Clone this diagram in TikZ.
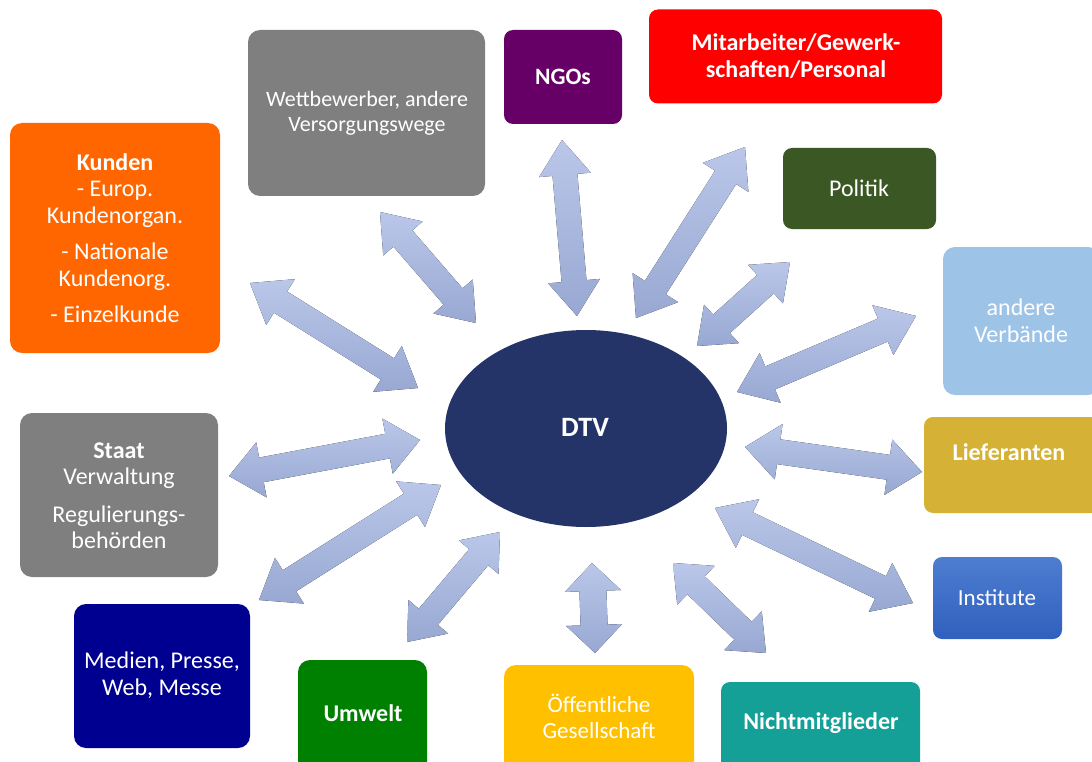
\documentclass[tikz,border=0pt]{standalone}
\usepackage{fontspec}
\setmainfont{Carlito}
\usetikzlibrary{calc,shapes.geometric}
\definecolor{cOrange}{HTML}{FF6600}
\definecolor{cGray}{HTML}{7F7F7F}
\definecolor{cPurple}{HTML}{660066}
\definecolor{cRed}{HTML}{FF0000}
\definecolor{cPolitik}{HTML}{3B5724}
\definecolor{cLightBlue}{HTML}{9DC3E6}
\definecolor{cGold}{HTML}{D5B236}
\definecolor{cInstTop}{HTML}{4E7DD0}
\definecolor{cInstBot}{HTML}{2F60BE}
\definecolor{cTeal}{HTML}{14A096}
\definecolor{cYellow}{HTML}{FFC000}
\definecolor{cGreen}{HTML}{008000}
\definecolor{cNavy}{HTML}{000090}
\definecolor{cDTV}{HTML}{243468}
\definecolor{arrTop}{HTML}{BAC7E9}
\definecolor{arrBot}{HTML}{98A8D2}
\newcommand\dblarr[5]{%
  \coordinate (da) at ($(#1)!#3!(#2)$);
  \coordinate (db) at ($(#2)!#3!(#1)$);
  \fill[arrowfill] (#1) -- ($(da)!#4!90:(#2)$) -- ($(da)!#5!90:(#2)$)
    -- ($(db)!#5!-90:(#1)$) -- ($(db)!#4!-90:(#1)$) -- (#2)
    -- ($(db)!#4!90:(#1)$) -- ($(db)!#5!90:(#1)$)
    -- ($(da)!#5!-90:(#2)$) -- ($(da)!#4!-90:(#2)$) -- cycle;}
\begin{document}
\begin{tikzpicture}[x=1pt,y=-1pt,
  box/.style={rectangle, rounded corners=12pt, inner sep=0pt, outer sep=0pt, draw=none},
  lbl/.style={text=white, align=center, inner sep=0pt, font=\fontsize{24}{27}\selectfont},
  blbl/.style={lbl, font=\fontsize{24}{27}\selectfont\bfseries},
  arrowfill/.style={top color=arrTop, bottom color=arrBot, draw=none}]
\useasboundingbox (0,0) rectangle (1092,762);
\clip (0,0) rectangle (1092,762);
% boxes
\node[box, fill=cOrange, minimum width=210, minimum height=230] (kunden) at (115,238) {};
\node[box, fill=cGray, minimum width=237, minimum height=166] (wettb) at (366.5,113) {};
\node[box, fill=cPurple, minimum width=118, minimum height=94, rounded corners=9pt] (ngos) at (563,77) {};
\node[box, fill=cRed, minimum width=293, minimum height=94, rounded corners=9pt] (mitarb) at (795.5,56.5) {};
\node[box, fill=cPolitik, minimum width=153, minimum height=81, rounded corners=9pt] (politik) at (859.5,188.5) {};
\node[box, fill=cLightBlue, minimum width=157, minimum height=148] (verb) at (1021.5,321) {};
\node[box, fill=cGold, minimum width=176, minimum height=96, rounded corners=9pt] (liefer) at (1012,465) {};
\node[box, top color=cInstTop, bottom color=cInstBot, minimum width=129, minimum height=82, rounded corners=9pt] (inst) at (997.5,598) {};
\node[box, fill=cTeal, minimum width=199, minimum height=98, rounded corners=9pt] (nicht) at (820.5,731) {};
\node[box, fill=cYellow, minimum width=190, minimum height=115] (oeff) at (599,722.5) {};
\node[box, fill=cGreen, minimum width=129, minimum height=120] (umwelt) at (362.5,720) {};
\node[box, fill=cNavy, minimum width=176, minimum height=144] (medien) at (162,676) {};
\node[box, fill=cGray, minimum width=198, minimum height=164] (staat) at (119,495) {};
\node[ellipse, fill=cDTV, minimum width=282, minimum height=197, inner sep=0pt] (dtv) at (586,428.5) {};
% labels
\node[lbl, font=\fontsize{24}{26.5}\selectfont] (tkunden) at (115,238) {\textbf{Kunden}\\- Europ.\\Kundenorgan.\\[10pt]- Nationale\\Kundenorg.\\[10pt]- Einzelkunde};
\node[lbl, font=\fontsize{22}{25}\selectfont] (twettb) at (367,113) {Wettbewerber, andere\\Versorgungswege};
\node[blbl, font=\fontsize{23.5}{27}\selectfont\bfseries] (tngos) at (563,77) {NGOs};
\node[blbl] (tmitarb) at (796,56.5) {Mitarbeiter/Gewerk-\\schaften/Personal};
\node[lbl] (tpolitik) at (859,188) {Politik};
\node[lbl] (tverb) at (1021,320.5) {andere\\Verbände};
\node[blbl] (tliefer) at (1009,452) {Lieferanten};
\node[lbl, font=\fontsize{23}{27}\selectfont] (tinst) at (997,598) {Institute};
\node[blbl] (tnicht) at (821,723) {Nichtmitglieder};
\node[lbl, font=\fontsize{23}{26}\selectfont] (toeff) at (599,716) {Öffentliche\\Gesellschaft};
\node[blbl] (tumwelt) at (363,713) {Umwelt};
\node[lbl] (tmedien) at (162,675.5) {Medien, Presse,\\Web, Messe};
\node[lbl, font=\fontsize{24}{26}\selectfont] (tstaat) at (119,495.5) {\textbf{Staat}\\Verwaltung\\[12pt]Regulierungs-\\behörden};
\node[blbl, font=\fontsize{28}{30}\selectfont\bfseries] (tdtv) at (585,427) {DTV};
% arrow end points
\coordinate (k1) at (250,283);  \coordinate (k2) at (418,388);
\coordinate (w1) at (380,212);  \coordinate (w2) at (476,323);
\coordinate (n1) at (562,140);  \coordinate (n2) at (577,316);
\coordinate (m1) at (745,147);  \coordinate (m2) at (636,318);
\coordinate (p1) at (790,262);  \coordinate (p2) at (697,346);
\coordinate (v1) at (916,316);  \coordinate (v2) at (737,392);
\coordinate (l1) at (745,447);  \coordinate (l2) at (922,472);
\coordinate (i1) at (715,508);  \coordinate (i2) at (913,603);
\coordinate (g1) at (673,563);  \coordinate (g2) at (766,653);
\coordinate (o1) at (592,563);  \coordinate (o2) at (595,653);
\coordinate (u1) at (500,532);  \coordinate (u2) at (407,642);
\coordinate (e1) at (441,485);  \coordinate (e2) at (259,600);
\coordinate (s1) at (420,440);  \coordinate (s2) at (229,476);
% arrows
\dblarr{k1}{k2}{36pt}{27pt}{12.5pt}
\dblarr{w1}{w2}{35pt}{26pt}{12.5pt}
\dblarr{n1}{n2}{35pt}{26pt}{12.5pt}
\dblarr{m1}{m2}{36pt}{27pt}{12.5pt}
\dblarr{p1}{p2}{33pt}{26pt}{12.5pt}
\dblarr{v1}{v2}{36pt}{27pt}{12.5pt}
\dblarr{l1}{l2}{34pt}{28pt}{12.5pt}
\dblarr{i1}{i2}{36pt}{27pt}{12.5pt}
\dblarr{g1}{g2}{32pt}{27pt}{12.5pt}
\dblarr{o1}{o2}{28pt}{28pt}{13.5pt}
\dblarr{u1}{u2}{33pt}{26pt}{12.5pt}
\dblarr{e1}{e2}{36pt}{27pt}{12.5pt}
\dblarr{s1}{s2}{33pt}{28pt}{12.5pt}
\end{tikzpicture}
\end{document}
